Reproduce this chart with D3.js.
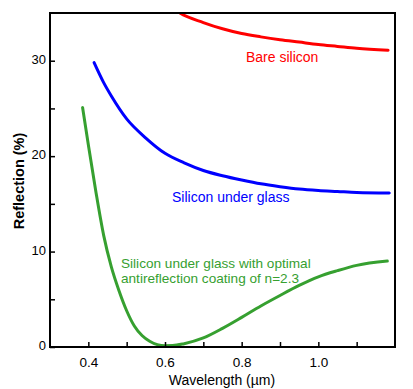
<!DOCTYPE html>
<html><head><meta charset="utf-8">
<script src="https://cdn.jsdelivr.net/npm/d3@7"></script>
<style>body{margin:0;background:#fff}svg{display:block}text{font-family:"Liberation Sans",Arial,sans-serif}</style>
</head><body><svg id="c" width="413" height="389"></svg>
<script>
const bareWl = [0.60,0.639,0.70,0.75,0.80,0.85,0.90,0.95,1.00,1.05,1.10,1.182];
const bareR  = [36.2,35.0,34.0,33.35,32.85,32.5,32.2,31.95,31.7,31.5,31.3,31.1];
const glassWl = [0.415,0.44,0.46,0.50,0.55,0.60,0.65,0.70,0.75,0.80,0.85,0.90,0.95,1.00,1.05,1.10,1.185];
const glassR  = [29.8,27.7,26.3,23.9,21.9,20.3,19.3,18.5,17.95,17.5,17.1,16.8,16.55,16.4,16.3,16.2,16.15];
const arcWl = [0.385,0.40,0.42,0.44,0.46,0.48,0.50,0.52,0.54,0.56,0.58,0.60,0.62,0.65,0.70,0.75,0.80,0.85,0.90,0.95,1.00,1.05,1.10,1.18];
const arcR  = [25.1,21.2,16.2,11.7,8.4,5.9,3.8,2.2,1.2,0.6,0.25,0.14,0.15,0.35,0.95,1.95,3.1,4.3,5.4,6.45,7.35,8.0,8.55,9.0];
const xTicks = [0.4,0.5,0.6,0.7,0.8,0.9,1.0,1.1];
const xLabels = [0.4,0.6,0.8,1.0];
const yTicks = [0,5,10,15,20,25,30];
const yLabels = [0,10,20,30];

const svg = d3.select("#c");
const L=50,R=395,T=13,B=347;
const x = d3.scaleLinear().domain([0.3,1.2]).range([L,R]);
const y = d3.scaleLinear().domain([0,35]).range([B,T]);

svg.append("defs").append("clipPath").attr("id","clip").append("rect")
  .attr("x",L).attr("y",T).attr("width",R-L).attr("height",B-T);

const line = d3.line().x(d=>x(d[0])).y(d=>y(d[1])).curve(d3.curveMonotoneX);
const series = [
  {wl:bareWl, r:bareR, c:"#ff0000"},
  {wl:glassWl, r:glassR, c:"#0000ff"},
  {wl:arcWl, r:arcR, c:"#36a030"}
];
const g = svg.append("g").attr("clip-path","url(#clip)");
series.forEach(s=>{
  g.append("path").datum(s.wl.map((w,i)=>[w,s.r[i]]))
   .attr("d",line).attr("fill","none").attr("stroke",s.c).attr("stroke-width",3).attr("stroke-linecap","round");
});

// frame
svg.append("rect").attr("x",L).attr("y",T).attr("width",R-L).attr("height",B-T)
  .attr("fill","none").attr("stroke","#000").attr("stroke-width",2);

// axes with inward ticks
const xAxis = d3.axisBottom(x).tickValues(xTicks).tickSize(-5).tickFormat(d=>xLabels.some(v=>Math.abs(v-d)<1e-9)?d3.format(".1f")(d):"");
const xa = svg.append("g").attr("transform",`translate(0,${B})`).call(xAxis);
xa.select(".domain").remove();
xa.selectAll(".tick line").attr("stroke","#000").attr("stroke-width",1.5);
xa.selectAll(".tick text").attr("y",10).attr("font-size",13.5).attr("fill","#000").style("font-family","Liberation Sans, Arial");

const yAxis = d3.axisLeft(y).tickValues(yTicks).tickSize(-5).tickFormat(d=>yLabels.includes(d)?d:"");
const ya = svg.append("g").attr("transform",`translate(${L},0)`).call(yAxis);
ya.select(".domain").remove();
ya.selectAll(".tick line").attr("stroke","#000").attr("stroke-width",1.5);
ya.selectAll(".tick text").attr("x",-4).attr("dy","0.2em").attr("font-size",13).attr("fill","#000").style("font-family","Liberation Sans, Arial");

// axis titles
svg.append("text").attr("x",222).attr("y",385).attr("text-anchor","middle").attr("font-size",14).text("Wavelength (\u00b5m)");
svg.append("text").attr("transform","translate(24,181) rotate(-90)").attr("text-anchor","middle")
  .attr("font-size",14.5).attr("font-weight","bold").text("Reflection (%)");

// series labels
svg.append("text").attr("x",246).attr("y",61.5).attr("font-size",14).attr("fill","#ff0000").text("Bare silicon");
svg.append("text").attr("x",172).attr("y",201.5).attr("font-size",14).attr("fill","#0000ff").text("Silicon under glass");
svg.append("text").attr("x",121).attr("y",268).attr("font-size",13.6).attr("fill","#36a030").text("Silicon under glass with optimal");
svg.append("text").attr("x",121).attr("y",283).attr("font-size",13.6).attr("fill","#36a030").text("antireflection coating of n=2.3");
</script></body></html>
